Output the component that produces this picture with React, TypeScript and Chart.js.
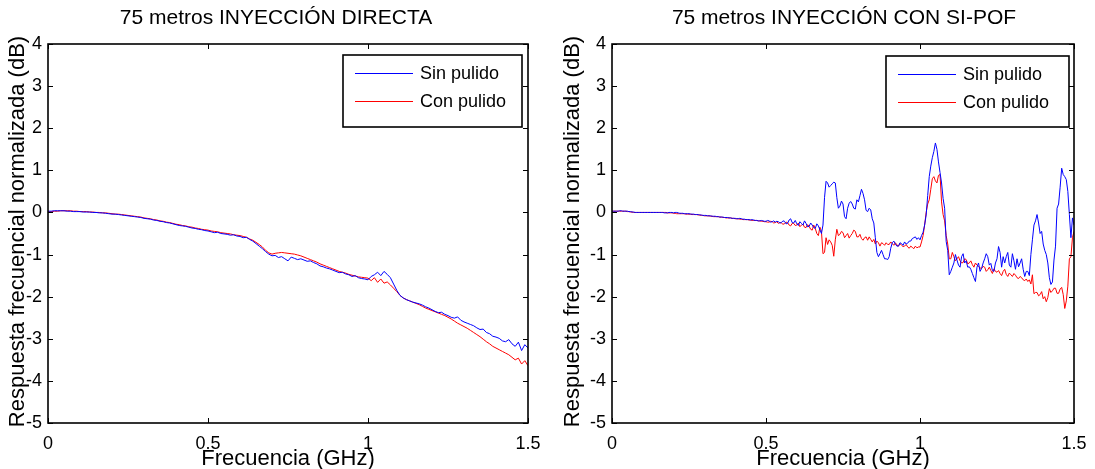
import React, { useEffect, useRef } from "react";
import { Chart, registerables } from "chart.js";

Chart.register(...registerables);

// ---------- data ----------
// sample grids (GHz)
const FREQ_DIRECTA: number[] = Array.from({ length: 151 }, (_, i) => i / 100);
const FREQ_SIPOF: number[] = Array.from({ length: 301 }, (_, i) => i / 200);

const X_TICKS = [0, 0.5, 1, 1.5];
const Y_TICKS = [-5, -4, -3, -2, -1, 0, 1, 2, 3, 4];

const TITLE_LEFT = "75 metros INYECCIÓN DIRECTA";
const TITLE_RIGHT = "75 metros INYECCIÓN CON SI-POF";
const X_LABEL = "Frecuencia (GHz)";
const Y_LABEL = "Respuesta frecuencial normalizada (dB)";
const SERIES_NAMES = ["Sin pulido", "Con pulido"];
const SERIES_COLORS = ["#0000ff", "#ff0000"];

// Left: inyección directa (every 0.01 GHz)
const DIRECTA_SIN = [
  0.03, 0.03, 0.04, 0.04, 0.04, 0.04, 0.03, 0.03, 0.02, 0.02,
  0.02, 0.01, 0.01, 0.01, 0.0, 0.0, -0.01, -0.01, -0.02, -0.03,
  -0.04, -0.04, -0.05, -0.06, -0.07, -0.08, -0.09, -0.1, -0.11, -0.12,
  -0.14, -0.15, -0.16, -0.18, -0.19, -0.21, -0.22, -0.24, -0.25, -0.27,
  -0.29, -0.31, -0.32, -0.33, -0.35, -0.37, -0.38, -0.4, -0.41, -0.43,
  -0.44, -0.46, -0.48, -0.47, -0.5, -0.51, -0.52, -0.54, -0.53, -0.56,
  -0.57, -0.6, -0.59, -0.64, -0.68, -0.74, -0.8, -0.86, -0.93, -0.99,
  -1.03, -1.02, -1.07, -1.05, -1.1, -1.15, -1.06, -1.09, -1.12, -1.1,
  -1.13, -1.16, -1.15, -1.19, -1.22, -1.27, -1.29, -1.32, -1.34, -1.37,
  -1.4, -1.43, -1.42, -1.46, -1.48, -1.52, -1.5, -1.55, -1.57, -1.58,
  -1.6, -1.52, -1.48, -1.42, -1.5, -1.4, -1.47, -1.55, -1.7, -1.85,
  -1.97, -2.03, -2.07, -2.1, -2.13, -2.15, -2.17, -2.2, -2.24, -2.27,
  -2.31, -2.35, -2.38, -2.37, -2.42, -2.45, -2.49, -2.51, -2.48, -2.56,
  -2.6, -2.63, -2.66, -2.69, -2.74, -2.78, -2.77, -2.85, -2.88, -2.94,
  -2.96, -2.99, -3.05, -3.07, -3.02, -3.12, -3.18, -3.08, -3.28, -3.14,
  -3.22,
];

const DIRECTA_CON = [
  0.01, 0.02, 0.03, 0.03, 0.04, 0.04, 0.04, 0.04, 0.03, 0.03,
  0.02, 0.02, 0.02, 0.01, 0.01, 0.0, 0.0, -0.01, -0.01, -0.02,
  -0.03, -0.04, -0.04, -0.05, -0.06, -0.07, -0.08, -0.09, -0.1, -0.11,
  -0.13, -0.14, -0.15, -0.17, -0.18, -0.2, -0.21, -0.23, -0.24, -0.26,
  -0.28, -0.29, -0.31, -0.32, -0.34, -0.35, -0.37, -0.38, -0.4, -0.41,
  -0.42, -0.44, -0.45, -0.46, -0.48, -0.49, -0.5, -0.51, -0.53, -0.54,
  -0.55, -0.57, -0.59, -0.63, -0.66, -0.71, -0.76, -0.82, -0.9, -0.96,
  -0.99, -0.97, -0.96, -0.95, -0.96, -0.97, -0.98, -0.99, -1.01, -1.03,
  -1.06, -1.09, -1.12, -1.15, -1.18, -1.22, -1.25, -1.28, -1.31, -1.34,
  -1.37, -1.4, -1.42, -1.44, -1.47, -1.49, -1.51, -1.53, -1.54, -1.55,
  -1.56, -1.62, -1.55, -1.66, -1.58, -1.68, -1.65, -1.72, -1.8, -1.88,
  -1.97, -2.03, -2.07, -2.1, -2.13, -2.16, -2.19, -2.23, -2.27, -2.3,
  -2.33, -2.36, -2.39, -2.42, -2.45, -2.49, -2.53, -2.58, -2.63, -2.67,
  -2.71, -2.75, -2.8, -2.85, -2.9, -2.95, -3.01, -3.07, -3.12, -3.18,
  -3.22, -3.26, -3.3, -3.34, -3.38, -3.44, -3.5, -3.46, -3.6, -3.52,
  -3.64,
];

// Right: inyección con SI-POF (every 0.005 GHz)
const SIPOF_SIN = [
  0.03, 0.03, 0.03, 0.03, 0.03, 0.04, 0.04, 0.03, 0.03, 0.03,
  0.03, 0.02, 0.02, 0.01, 0.01, 0.0, 0.0, 0.0, 0.0, 0.0,
  0.0, 0.0, 0.0, 0.0, 0.0, 0.0, 0.0, 0.0, 0.0, 0.0,
  0.0, 0.0, 0.0, 0.0, -0.01, -0.01, -0.01, 0.0, 0.0, 0.0,
  -0.01, 0.0, 0.0, -0.01, -0.02, -0.02, -0.02, -0.03, -0.03, -0.03,
  -0.03, -0.04, -0.04, -0.04, -0.05, -0.05, -0.05, -0.06, -0.06, -0.07,
  -0.07, -0.07, -0.08, -0.08, -0.08, -0.09, -0.09, -0.09, -0.1, -0.1,
  -0.11, -0.11, -0.11, -0.12, -0.12, -0.12, -0.13, -0.13, -0.14, -0.14,
  -0.14, -0.15, -0.15, -0.14, -0.15, -0.16, -0.16, -0.17, -0.17, -0.17,
  -0.18, -0.17, -0.18, -0.19, -0.19, -0.2, -0.2, -0.19, -0.2, -0.21,
  -0.21, -0.19, -0.2, -0.23, -0.22, -0.2, -0.23, -0.21, -0.22, -0.25,
  -0.24, -0.2, -0.21, -0.27, -0.26, -0.18, -0.15, -0.24, -0.25, -0.19,
  -0.27, -0.31, -0.22, -0.26, -0.3, -0.2, -0.26, -0.34, -0.33, -0.25,
  -0.3, -0.36, -0.38, -0.27, -0.32, -0.41, -0.5, -0.3, 0.35, 0.74,
  0.7, 0.6, 0.64, 0.68, 0.72, 0.7, 0.35, 0.1, 0.15, 0.27,
  0.2, -0.1, -0.15, 0.1, 0.22, 0.26, 0.2, 0.1, 0.08, 0.3,
  0.25, 0.4, 0.55, 0.45, 0.3, 0.05, 0.02, 0.1, 0.06, -0.15,
  -0.25, -0.6, -0.95, -1.05, -0.98, -0.9, -1.0, -1.1, -1.1, -1.12,
  -1.05, -0.85, -0.72, -0.68, -0.75, -0.8, -0.8, -0.72, -0.74, -0.78,
  -0.7, -0.75, -0.73, -0.68, -0.68, -0.62, -0.6, -0.58, -0.64, -0.6,
  -0.65, -0.55, -0.47, -0.3, -0.06, 0.4, 0.85, 1.1, 1.3, 1.45,
  1.65, 1.5, 1.2, 0.95, 0.7, 0.33, 0.1, -0.69, -0.9, -1.48,
  -1.4, -1.3, -1.2, -1.0, -1.13, -1.25, -1.3, -1.05, -0.98, -1.2,
  -1.15, -1.3, -1.29, -1.35, -1.45, -1.55, -1.64, -1.3, -1.2, -1.4,
  -1.33, -1.2, -1.1, -0.98, -1.05, -1.25, -1.21, -1.38, -1.4, -1.2,
  -1.1, -0.81, -0.95, -1.3, -1.05, -1.2, -1.05, -0.95, -1.25, -1.3,
  -0.98, -1.15, -1.35, -1.1, -1.29, -1.2, -1.1, -1.35, -1.52, -1.4,
  -1.4, -1.5, -1.0, -0.65, -0.3, -0.2, -0.05, -0.25, -0.5, -0.45,
  -0.75, -0.9, -1.0, -1.2, -1.55, -1.71, -1.65, -1.13, -0.8, 0.1,
  0.2, 0.6, 1.05, 0.9, 0.85, 0.78, 0.5, -0.05, -0.6, -0.13,
  -0.3,
];

const SIPOF_CON = [
  0.03, 0.03, 0.03, 0.03, 0.03, 0.03, 0.03, 0.03, 0.03, 0.03,
  0.02, 0.02, 0.01, 0.01, 0.0, 0.0, 0.0, 0.0, 0.0, 0.0,
  0.0, 0.0, 0.0, 0.0, 0.0, 0.0, 0.0, 0.0, 0.0, 0.0,
  0.0, 0.0, 0.0, 0.0, 0.0, 0.0, -0.01, -0.01, -0.01, -0.01,
  -0.02, -0.02, -0.03, -0.03, -0.03, -0.03, -0.03, -0.03, -0.04, -0.04,
  -0.04, -0.04, -0.05, -0.05, -0.05, -0.05, -0.06, -0.06, -0.07, -0.07,
  -0.08, -0.08, -0.08, -0.08, -0.09, -0.09, -0.1, -0.1, -0.1, -0.1,
  -0.11, -0.11, -0.12, -0.12, -0.13, -0.13, -0.13, -0.13, -0.14, -0.14,
  -0.15, -0.15, -0.15, -0.16, -0.16, -0.17, -0.17, -0.17, -0.17, -0.18,
  -0.18, -0.19, -0.19, -0.19, -0.19, -0.2, -0.2, -0.21, -0.21, -0.22,
  -0.22, -0.23, -0.23, -0.21, -0.22, -0.25, -0.24, -0.22, -0.26, -0.24,
  -0.25, -0.28, -0.27, -0.23, -0.24, -0.3, -0.32, -0.26, -0.26, -0.31,
  -0.3, -0.25, -0.34, -0.3, -0.28, -0.35, -0.36, -0.29, -0.33, -0.4,
  -0.42, -0.3, -0.38, -0.5, -0.55, -0.35, -0.45, -0.98, -0.95, -0.6,
  -0.76, -0.65, -0.7, -0.78, -1.04, -0.65, -0.4, -0.55, -0.52, -0.45,
  -0.48, -0.6, -0.55, -0.5, -0.61, -0.55, -0.5, -0.42, -0.45, -0.58,
  -0.58, -0.52, -0.62, -0.66, -0.6, -0.58, -0.66, -0.58, -0.64, -0.7,
  -0.64, -0.75, -0.68, -0.72, -0.8, -0.72, -0.74, -0.78, -0.72, -0.76,
  -0.76, -0.7, -0.74, -0.78, -0.72, -0.77, -0.8, -0.74, -0.78, -0.81,
  -0.8, -0.76, -0.82, -0.85, -0.8, -0.83, -0.86, -0.8, -0.84, -0.82,
  -0.82, -0.7, -0.55, -0.3, 0.0, 0.2, 0.3, 0.55, 0.8, 0.85,
  0.75, 0.7, 0.88, 0.9, 0.25, -0.05, -0.2, -0.55, -0.75, -1.1,
  -1.1, -0.95, -1.05, -1.15, -1.1, -1.05, -1.15, -1.2, -1.19, -1.1,
  -1.12, -1.22, -1.2, -1.15, -1.24, -1.3, -1.2, -1.25, -1.28, -1.32,
  -1.33, -1.28, -1.3, -1.4, -1.36, -1.3, -1.38, -1.45, -1.34, -1.4,
  -1.42, -1.38, -1.45, -1.5, -1.4, -1.35, -1.47, -1.52, -1.44, -1.48,
  -1.52, -1.45, -1.49, -1.55, -1.57, -1.52, -1.55, -1.6, -1.62, -1.58,
  -1.64, -1.6, -1.7, -1.48, -1.93, -1.9, -1.9, -1.98, -1.95, -1.88,
  -2.05, -2.0, -2.12, -2.02, -1.81, -1.9, -1.86, -1.8, -1.8, -1.92,
  -1.92, -1.82, -1.78, -1.95, -2.28, -2.1, -1.75, -1.1, -1.05, -0.6,
  -0.45,
];

// ---------- drawing ----------
const FONT = "'Liberation Sans', Arial, Helvetica, sans-serif";

type Deco = {
  title: string;
  titleX: number;
  yLabelX: number;
  legend: { x1: number; y1: number; x2: number; y2: number };
};

const decoPlugin = {
  id: "deco",
  afterDatasetsDraw(chart: any, _args: any, opts: Deco) {
    const ctx = chart.ctx as CanvasRenderingContext2D;
    const { left, right, top, bottom } = chart.chartArea;
    const xs = chart.scales.x;
    const ys = chart.scales.y;
    ctx.save();
    // frame
    ctx.strokeStyle = "#000";
    ctx.lineWidth = 1.6;
    ctx.strokeRect(left, top, right - left, bottom - top);
    // inward ticks
    ctx.lineWidth = 1;
    const tl = 5;
    ctx.beginPath();
    X_TICKS.forEach((v) => {
      const px = Math.round(xs.getPixelForValue(v)) + 0.5;
      ctx.moveTo(px, bottom);
      ctx.lineTo(px, bottom - tl);
      ctx.moveTo(px, top);
      ctx.lineTo(px, top + tl);
    });
    Y_TICKS.forEach((v) => {
      const py = Math.round(ys.getPixelForValue(v)) + 0.5;
      ctx.moveTo(left, py);
      ctx.lineTo(left + tl, py);
      ctx.moveTo(right, py);
      ctx.lineTo(right - tl, py);
    });
    ctx.stroke();

    // legend
    const L = opts.legend;
    ctx.fillStyle = "#fff";
    ctx.fillRect(L.x1, L.y1, L.x2 - L.x1, L.y2 - L.y1);
    ctx.lineWidth = 1.6;
    ctx.strokeStyle = "#000";
    ctx.strokeRect(L.x1, L.y1, L.x2 - L.x1, L.y2 - L.y1);
    const rowY = [L.y1 + 18, L.y1 + 46];
    SERIES_NAMES.forEach((name, i) => {
      const cy = Math.round(rowY[i]) + 0.5;
      ctx.beginPath();
      ctx.strokeStyle = SERIES_COLORS[i];
      ctx.lineWidth = 1;
      ctx.moveTo(L.x1 + 12, cy);
      ctx.lineTo(L.x1 + 70, cy);
      ctx.stroke();
      ctx.fillStyle = "#000";
      ctx.font = `18px ${FONT}`;
      ctx.textAlign = "left";
      ctx.textBaseline = "middle";
      ctx.fillText(name, L.x1 + 77, cy + 1);
    });

    // title
    ctx.fillStyle = "#000";
    ctx.font = `21px ${FONT}`;
    ctx.textAlign = "center";
    ctx.textBaseline = "middle";
    ctx.fillText(opts.title, opts.titleX, 18);

    // x label
    ctx.font = `22px ${FONT}`;
    ctx.textBaseline = "alphabetic";
    ctx.fillText(X_LABEL, (left + right) / 2, 465);

    // y label
    ctx.save();
    ctx.translate(opts.yLabelX, (top + bottom) / 2 - 2);
    ctx.rotate(-Math.PI / 2);
    ctx.textAlign = "center";
    ctx.textBaseline = "middle";
    ctx.fillText(Y_LABEL, 0, 0);
    ctx.restore();

    ctx.restore();
  },
};

function buildConfig(
  freq: number[],
  sin: number[],
  con: number[],
  yAxisWidth: number,
  padRight: number,
  deco: Deco
): any {
  const tickFont = { family: FONT, size: 18 };
  return {
    type: "line",
    data: {
      datasets: [
        {
          label: SERIES_NAMES[0],
          data: freq.map((f, i) => ({ x: f, y: sin[i] })),
          borderColor: SERIES_COLORS[0],
          borderWidth: 1,
          pointRadius: 0,
          tension: 0,
          fill: false,
        },
        {
          label: SERIES_NAMES[1],
          data: freq.map((f, i) => ({ x: f, y: con[i] })),
          borderColor: SERIES_COLORS[1],
          borderWidth: 1,
          pointRadius: 0,
          tension: 0,
          fill: false,
        },
      ],
    },
    options: {
      animation: false,
      responsive: false,
      maintainAspectRatio: false,
      layout: { padding: { top: 44, right: padRight, left: 0, bottom: 0 } },
      plugins: {
        legend: { display: false },
        title: { display: false },
        tooltip: { enabled: false },
        deco,
      },
      scales: {
        x: {
          type: "linear",
          min: 0,
          max: 1.5,
          afterBuildTicks: (s: any) => {
            s.ticks = X_TICKS.map((v) => ({ value: v }));
          },
          afterFit: (s: any) => {
            s.height = 46;
            s.paddingLeft = 0;
            s.paddingRight = 0;
          },
          grid: { display: false, drawTicks: false },
          border: { display: false },
          ticks: {
            font: tickFont,
            color: "#000",
            padding: 10,
            maxRotation: 0,
            autoSkip: false,
            callback: (v: any) => String(v),
          },
        },
        y: {
          type: "linear",
          min: -5,
          max: 4,
          afterBuildTicks: (s: any) => {
            s.ticks = Y_TICKS.map((v) => ({ value: v }));
          },
          afterFit: (s: any) => {
            s.width = yAxisWidth;
            s.paddingTop = 0;
            s.paddingBottom = 0;
          },
          grid: { display: false, drawTicks: false },
          border: { display: false },
          ticks: {
            font: tickFont,
            color: "#000",
            padding: 6,
            autoSkip: false,
            callback: (v: any) => String(v),
          },
        },
      },
    },
    plugins: [decoPlugin],
  };
}

function Panel(props: {
  left: number;
  width: number;
  freq: number[];
  sin: number[];
  con: number[];
  yAxisWidth: number;
  padRight: number;
  deco: Deco;
}) {
  const ref = useRef<HTMLCanvasElement | null>(null);
  useEffect(() => {
    if (!ref.current) return;
    const chart = new Chart(
      ref.current,
      buildConfig(props.freq, props.sin, props.con, props.yAxisWidth, props.padRight, props.deco)
    );
    return () => chart.destroy();
  }, []);
  return (
    <canvas
      ref={ref}
      width={props.width}
      height={469}
      style={{ position: "absolute", left: props.left, top: 0, width: props.width, height: 469 }}
    />
  );
}

export default function App() {
  return (
    <div
      style={{
        position: "absolute",
        left: 0,
        top: 0,
        width: 1095,
        height: 469,
        background: "#fff",
        overflow: "hidden",
      }}
    >
      <Panel
        left={0}
        width={547}
        freq={FREQ_DIRECTA}
        sin={DIRECTA_SIN}
        con={DIRECTA_CON}
        yAxisWidth={48}
        padRight={19}
        deco={{ title: TITLE_LEFT, titleX: 276, yLabelX: 18, legend: { x1: 343, y1: 55, x2: 522, y2: 127 } }}
      />
      <Panel
        left={547}
        width={548}
        freq={FREQ_SIPOF}
        sin={SIPOF_SIN}
        con={SIPOF_CON}
        yAxisWidth={65}
        padRight={21}
        deco={{ title: TITLE_RIGHT, titleX: 297, yLabelX: 26, legend: { x1: 339, y1: 56, x2: 522, y2: 127 } }}
      />
    </div>
  );
}
